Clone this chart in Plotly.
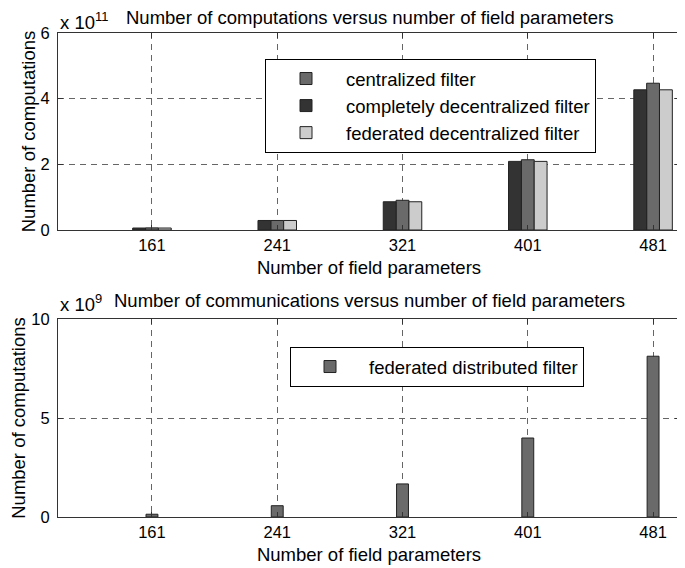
import plotly.graph_objects as go

# ---- data ----
field_params = [161, 241, 321, 401, 481]
tick_labels = ["161", "241", "321", "401", "481"]

comp_centralized = [0.065e11, 0.29e11, 0.905e11, 2.14e11, 4.47e11]
comp_completely = [0.06e11, 0.29e11, 0.86e11, 2.09e11, 4.27e11]
comp_federated = [0.06e11, 0.29e11, 0.86e11, 2.09e11, 4.27e11]

comm_federated = [0.14e9, 0.57e9, 1.67e9, 3.99e9, 8.12e9]

top_yticks = [0, 2e11, 4e11, 6e11]
top_yticktext = ["0", "2", "4", "6"]
bot_yticks = [0, 5e9, 10e9]
bot_yticktext = ["0", "5", "10"]

# ---- styling ----
OFF = 8            # page body margin
W, H = 685 - OFF, 568 - OFF
FONT = "Liberation Sans, Arial, Helvetica, sans-serif"
DARK, MED, LIGHT = "#333333", "#6a6a6a", "#cccccc"
EDGE = "#222222"
bw = 8.2  # bar width in x units


def px(x):
    return (x - OFF) / W


def py(y):
    return 1 - (y - OFF) / H


fig = go.Figure()

fig.add_trace(go.Bar(x=field_params, y=comp_centralized, width=bw, offset=-0.5 * bw,
                     marker=dict(color=MED, line=dict(color=EDGE, width=1)),
                     name="centralized filter", xaxis="x", yaxis="y", legend="legend"))
fig.add_trace(go.Bar(x=field_params, y=comp_completely, width=bw, offset=-1.5 * bw,
                     marker=dict(color=DARK, line=dict(color=EDGE, width=1)),
                     name="completely decentralized filter", xaxis="x", yaxis="y", legend="legend"))
fig.add_trace(go.Bar(x=field_params, y=comp_federated, width=bw, offset=0.5 * bw,
                     marker=dict(color=LIGHT, line=dict(color=EDGE, width=1)),
                     name="federated decentralized filter", xaxis="x", yaxis="y", legend="legend"))

fig.add_trace(go.Bar(x=field_params, y=comm_federated, width=7.6, offset=-3.8,
                     marker=dict(color=MED, line=dict(color=EDGE, width=1)),
                     name="federated distributed filter", xaxis="x2", yaxis="y2", legend="legend2"))

xdom = [px(58), px(680)]
top_dom = [py(230), py(33)]
bot_dom = [py(517), py(319)]

axis_common = dict(
    showline=True, linecolor="#333", linewidth=1, mirror="ticks",
    ticks="inside", ticklen=5, tickcolor="#333",
    showgrid=True, gridcolor="#666", gridwidth=1, griddash="6px,5px",
    zeroline=False, automargin=False,
    tickfont=dict(size=16.5, color="black", family=FONT),
)

xaxis_common = dict(axis_common, range=[101, 498.2], tickvals=field_params, ticktext=tick_labels,
                    domain=xdom)

TS = 18.5
fig.update_layout(
    width=W, height=H, autosize=False,
    margin=dict(l=0, r=0, t=0, b=0, pad=0, autoexpand=False),
    paper_bgcolor="white", plot_bgcolor="white",
    font=dict(family=FONT, size=TS, color="black"),
    barmode="overlay",
    xaxis=dict(xaxis_common, anchor="y",
               title=dict(text="Number of field parameters", font=dict(size=TS), standoff=8)),
    yaxis=dict(axis_common, domain=top_dom, anchor="x", range=[0, 6e11],
               tickvals=top_yticks, ticktext=top_yticktext, ticklabelstandoff=4,
               title=dict(text="Number of computations", font=dict(size=TS), standoff=0)),
    xaxis2=dict(xaxis_common, anchor="y2",
                title=dict(text="Number of field parameters", font=dict(size=TS), standoff=8)),
    yaxis2=dict(axis_common, domain=bot_dom, anchor="x2", range=[0, 10e9],
                tickvals=bot_yticks, ticktext=bot_yticktext, ticklabelstandoff=4,
                title=dict(text="Number of computations", font=dict(size=TS), standoff=9)),
    legend=dict(x=px(265), y=py(59), xanchor="left", yanchor="top",
                bgcolor="white", bordercolor="black", borderwidth=1,
                font=dict(size=TS, family=FONT), itemwidth=70, traceorder="normal"),
    legend2=dict(x=px(290), y=py(347), xanchor="left", yanchor="top",
                 bgcolor="white", bordercolor="black", borderwidth=1,
                 font=dict(size=TS, family=FONT), itemwidth=68),
    showlegend=True,
)

xc = px((58 + 680) / 2)
annotations = [
    dict(text="Number of computations versus number of field parameters", x=xc, y=top_dom[1],
         xref="paper", yref="paper", xanchor="center", yanchor="bottom", yshift=3,
         showarrow=False, font=dict(size=TS)),
    dict(text="Number of communications versus number of field parameters", x=xc, y=bot_dom[1],
         xref="paper", yref="paper", xanchor="center", yanchor="bottom", yshift=6,
         showarrow=False, font=dict(size=TS)),
    dict(text="x 10<sup>11</sup>", x=xdom[0], y=top_dom[1], xref="paper", yref="paper",
         xanchor="left", yanchor="bottom", yshift=-2, showarrow=False, font=dict(size=TS)),
    dict(text="x 10<sup>9</sup>", x=xdom[0], y=bot_dom[1], xref="paper", yref="paper",
         xanchor="left", yanchor="bottom", yshift=2, showarrow=False, font=dict(size=TS)),
]
fig.update_layout(annotations=annotations)

fig.write_html("out.html")
